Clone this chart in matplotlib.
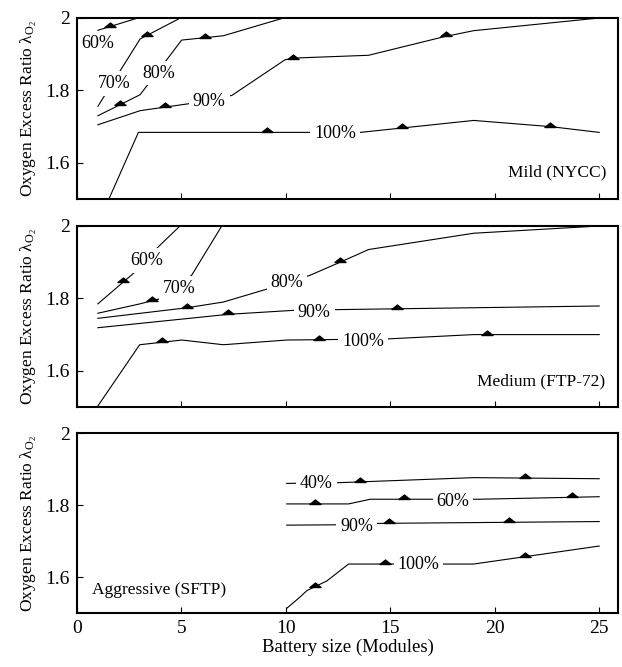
import numpy as np
import matplotlib
matplotlib.use("Agg")
import matplotlib.pyplot as plt
from matplotlib.path import Path
from matplotlib.ticker import FuncFormatter

plt.rcParams["font.family"] = ["Liberation Serif", "DejaVu Serif"]
plt.rcParams["mathtext.fontset"] = "custom"
plt.rcParams["mathtext.rm"] = "Liberation Serif"
plt.rcParams["mathtext.it"] = "Liberation Serif:italic"

# ---------------- Mild (NYCC) ----------------
mild_60_x = [1.0, 2.8]
mild_60_y = [1.966, 1.998]
mild_60_mk = [1.58]

mild_70_x = [1.0, 3.02, 4.85]
mild_70_y = [1.756, 1.942, 1.997]
mild_70_mk = [3.34]

mild_80_x = [1.0, 3.02, 4.30, 5.01, 7.01, 9.89]
mild_80_y = [1.730, 1.788, 1.885, 1.939, 1.951, 2.0]
mild_80_mk = [2.06, 6.13]

mild_90_x = [1.0, 3.02, 5.33, 7.41, 9.97, 10.69, 13.96, 17.55, 18.99, 25.0]
mild_90_y = [1.705, 1.744, 1.763, 1.786, 1.885, 1.890, 1.897, 1.948, 1.965, 2.0]
mild_90_mk = [4.21, 10.36, 17.67]

mild_100_x = [1.45, 2.94, 13.56, 18.99, 22.66, 25.0]
mild_100_y = [1.49, 1.684, 1.684, 1.717, 1.700, 1.684]
mild_100_mk = [9.09, 15.56, 22.66]

# ---------------- Medium (FTP-72) ----------------
med_60_x = [1.0, 2.78, 3.90, 4.93]
med_60_y = [1.785, 1.873, 1.943, 2.0]
med_60_mk = [2.22]

med_70_x = [1.0, 3.02, 3.98, 5.49, 6.93]
med_70_y = [1.759, 1.785, 1.799, 1.864, 2.0]
med_70_mk = [3.58]

med_80_x = [1.0, 5.25, 7.01, 9.17, 11.16, 12.6, 13.96, 18.99, 25.0]
med_80_y = [1.745, 1.774, 1.790, 1.827, 1.864, 1.900, 1.935, 1.980, 2.0]
med_80_mk = [5.25, 12.6]

med_90_x = [1.0, 7.25, 10.36, 12.44, 25.0]
med_90_y = [1.719, 1.756, 1.767, 1.769, 1.779]
med_90_mk = [7.25, 15.32]

med_100_x = [1.0, 3.0, 5.02, 7.01, 10.04, 14.84, 18.99, 25.0]
med_100_y = [1.503, 1.672, 1.685, 1.672, 1.685, 1.688, 1.700, 1.700]
med_100_mk = [4.06, 11.6, 19.63]

# ---------------- Aggressive (SFTP) ----------------
agg_40_x = [10.04, 12.52, 18.99, 25.0]
agg_40_y = [1.860, 1.862, 1.876, 1.873]
agg_40_mk = [13.53, 21.43]

agg_60_x = [10.04, 13.0, 14.04, 19.23, 25.0]
agg_60_y = [1.803, 1.803, 1.816, 1.816, 1.823]
agg_60_mk = [11.4, 15.67, 23.70]

agg_90_x = [10.04, 12.36, 14.52, 25.0]
agg_90_y = [1.744, 1.745, 1.749, 1.754]
agg_90_mk = [14.92, 20.67]

agg_100_x = [10.04, 10.69, 11.0, 11.96, 13.0, 18.99, 25.0]
agg_100_y = [1.513, 1.545, 1.562, 1.589, 1.636, 1.636, 1.686]
agg_100_mk = [11.4, 14.73, 21.43]

# contour labels: (text, x, y)
mild_labels = [("60%", 0.98, 1.930), ("70%", 1.77, 1.818), ("80%", 3.93, 1.848),
               ("90%", 6.33, 1.768), ("100%", 12.36, 1.680)]
med_labels = [("60%", 3.34, 1.906), ("70%", 4.89, 1.827), ("80%", 10.06, 1.845),
              ("90%", 11.36, 1.760), ("100%", 13.7, 1.681)]
agg_labels = [("40%", 11.45, 1.860), ("60%", 18.0, 1.810), ("90%", 13.4, 1.740),
              ("100%", 16.35, 1.636)]

cycle_names = ["Mild (NYCC)", "Medium (FTP-72)", "Aggressive (SFTP)"]
x_ticks = [0, 5, 10, 15, 20, 25]
y_ticks = [1.6, 1.8, 2.0]

# triangle marker with its base on the curve
tri = Path([(-1.0, 0.0), (1.0, 0.0), (0.0, 0.8), (-1.0, 0.0)],
           [Path.MOVETO, Path.LINETO, Path.LINETO, Path.CLOSEPOLY])

FS_TICK = 14
FS_LAB = 13
FS_NAME = 12.5
FS_AXIS = 13.5

fig = plt.figure(figsize=(6.22, 6.67), dpi=100)
left, width = 77 / 622, 541 / 622
ax1 = fig.add_axes([left, 1 - 199 / 667, width, 181 / 667])
ax2 = fig.add_axes([left, 1 - 407 / 667, width, 181 / 667])
ax3 = fig.add_axes([left, 1 - 613 / 667, width, 180 / 667])

panels = [
    (ax1, [(mild_60_x, mild_60_y, mild_60_mk), (mild_70_x, mild_70_y, mild_70_mk),
           (mild_80_x, mild_80_y, mild_80_mk), (mild_90_x, mild_90_y, mild_90_mk),
           (mild_100_x, mild_100_y, mild_100_mk)], mild_labels),
    (ax2, [(med_60_x, med_60_y, med_60_mk), (med_70_x, med_70_y, med_70_mk),
           (med_80_x, med_80_y, med_80_mk), (med_90_x, med_90_y, med_90_mk),
           (med_100_x, med_100_y, med_100_mk)], med_labels),
    (ax3, [(agg_40_x, agg_40_y, agg_40_mk), (agg_60_x, agg_60_y, agg_60_mk),
           (agg_90_x, agg_90_y, agg_90_mk), (agg_100_x, agg_100_y, agg_100_mk)], agg_labels),
]

for i, (ax, curves, labels) in enumerate(panels):
    for xs, ys, mk in curves:
        ax.plot(xs, ys, color="black", lw=0.8, zorder=2)
        my = np.interp(mk, xs, ys)
        ax.plot(mk, my, linestyle="none", marker=tri, markersize=8,
                color="black", zorder=3)
    for txt, tx, ty in labels:
        ax.text(tx, ty, txt, fontsize=FS_LAB, ha="center", va="center", zorder=4,
                bbox=dict(boxstyle="square,pad=0.22", fc="white", ec="none"))

    ax.set_xlim(0, 25.9)
    ax.set_ylim(1.5, 2.0)
    ax.set_xticks(x_ticks)
    ax.set_yticks(y_ticks)
    ax.yaxis.set_major_formatter(FuncFormatter(lambda v, p: f"{v:g}"))
    ax.tick_params(direction="in", length=4, width=0.8, labelsize=FS_TICK,
                   top=False, right=False, pad=5)
    for s in ax.spines.values():
        s.set_linewidth(1.5)
        s.set_zorder(6)
    ax.set_ylabel("Oxygen Excess Ratio λ$_{\\mathrm{O}_2}$", fontsize=12.5, labelpad=5)
    if i < 2:
        ax.tick_params(labelbottom=False)

ax1.text(25.35, 1.573, cycle_names[0], fontsize=FS_NAME, ha="right", va="center")
ax2.text(25.3, 1.572, cycle_names[1], fontsize=FS_NAME, ha="right", va="center")
ax3.text(0.72, 1.565, cycle_names[2], fontsize=FS_NAME, ha="left", va="center")
ax3.set_xlabel("Battery size (Modules)", fontsize=FS_AXIS, labelpad=1)

fig.savefig("out.png", dpi=100)
